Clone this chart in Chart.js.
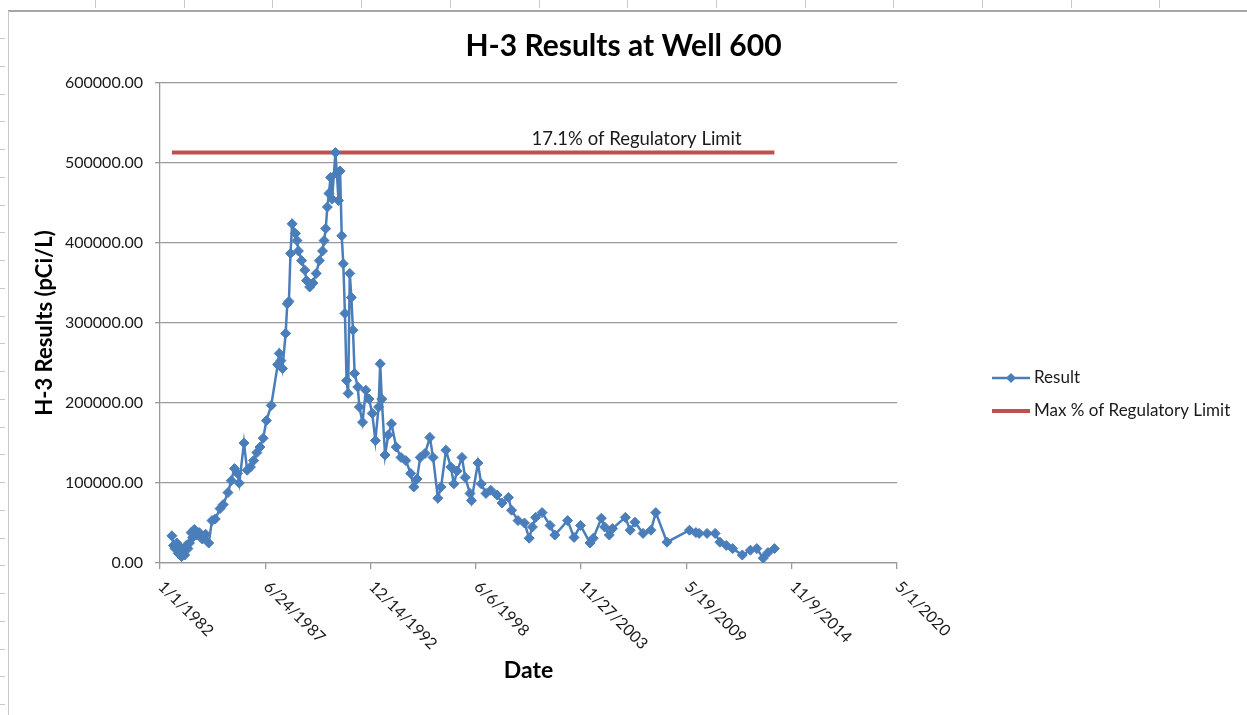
<!DOCTYPE html>
<html>
<head>
<meta charset="utf-8">
<title>H-3 Results at Well 600</title>
<script src="https://cdn.jsdelivr.net/npm/chart.js@4.4.0/dist/chart.umd.min.js"></script>
<style>
  html, body { margin: 0; padding: 0; background: #fff; }
  #wrap { position: relative; width: 1247px; height: 715px; }
</style>
</head>
<body>
<div id="wrap"><canvas id="chart" width="1247" height="715"></canvas></div>
<script>
var sampleDates = [
  "1982-08", "1982-09", "1982-10", "1982-11", "1982-12", "1983-01", "1983-02", "1983-03",
  "1983-04", "1983-05", "1983-06", "1983-07", "1983-08", "1983-09", "1983-10", "1983-11",
  "1984-01", "1984-03", "1984-05", "1984-07", "1984-09", "1984-11", "1985-02", "1985-04",
  "1985-07", "1985-09", "1985-11", "1986-01", "1986-02", "1986-05", "1986-07", "1986-09",
  "1986-11", "1987-01", "1987-03", "1987-05", "1987-07", "1987-10", "1988-02", "1988-03",
  "1988-04", "1988-05", "1988-07", "1988-08", "1988-09", "1988-10", "1988-11", "1989-01",
  "1989-02", "1989-03", "1989-05", "1989-07", "1989-08", "1989-10", "1989-12", "1990-02",
  "1990-04", "1990-06", "1990-07", "1990-08", "1990-09", "1990-10", "1990-11", "1990-12",
  "1991-02", "1991-03", "1991-04", "1991-05", "1991-06", "1991-07", "1991-08", "1991-09",
  "1991-10", "1991-11", "1991-12", "1992-01", "1992-02", "1992-04", "1992-05", "1992-07",
  "1992-09", "1992-11", "1993-01", "1993-03", "1993-05", "1993-06", "1993-07", "1993-09",
  "1993-11", "1994-01", "1994-04", "1994-07", "1994-10", "1995-01", "1995-03", "1995-05",
  "1995-07", "1995-10", "1996-01", "1996-03", "1996-06", "1996-08", "1996-11", "1997-02",
  "1997-04", "1997-06", "1997-09", "1997-11", "1998-02", "1998-03", "1998-07", "1998-09",
  "1998-12", "1999-03", "1999-07", "1999-10", "2000-02", "2000-04", "2000-08", "2000-12",
  "2001-03", "2001-05", "2001-07", "2001-11", "2002-04", "2002-07", "2003-03", "2003-07",
  "2003-11", "2004-05", "2004-07", "2004-12", "2005-02", "2005-05", "2005-07", "2006-03",
  "2006-06", "2006-09", "2007-02", "2007-07", "2007-10", "2008-05", "2009-07", "2009-11",
  "2010-01", "2010-06", "2010-11", "2011-02", "2011-06", "2011-10", "2012-04", "2012-09",
  "2013-01", "2013-05", "2013-08", "2013-12"
];

var resultValues = [
  34000, 22000, 18000, 25000, 12000, 20000, 8000, 15000,
  10000, 22000, 18000, 25000, 38000, 32000, 42000, 35000,
  38000, 30000, 36000, 25000, 53000, 55000, 68000, 73000,
  88000, 103000, 118000, 112000, 100000, 150000, 116000, 120000,
  128000, 138000, 145000, 156000, 178000, 197000, 248000, 262000,
  253000, 243000, 287000, 324000, 327000, 387000, 424000, 412000,
  403000, 390000, 378000, 366000, 353000, 345000, 350000, 362000,
  378000, 390000, 403000, 418000, 445000, 462000, 482000, 455000,
  513000, 487000, 453000, 490000, 409000, 374000, 312000, 228000,
  212000, 362000, 332000, 291000, 237000, 220000, 195000, 176000,
  216000, 205000, 187000, 153000, 195000, 249000, 205000, 135000,
  160000, 174000, 145000, 132000, 128000, 112000, 95000, 105000,
  132000, 137000, 157000, 132000, 81000, 95000, 141000, 120000,
  99000, 115000, 132000, 107000, 87000, 78000, 125000, 99000,
  87000, 91000, 85000, 75000, 82000, 66000, 53000, 50000,
  31000, 45000, 57000, 63000, 47000, 35000, 53000, 32000,
  47000, 25000, 31000, 56000, 45000, 35000, 43000, 57000,
  41000, 51000, 37000, 41000, 63000, 26000, 41000, 38000,
  37000, 37000, 37000, 26000, 22000, 18000, 10000, 16000,
  18000, 6000, 13000, 18000
];

var maxLimitValue = 513000;
var limitLabel = "17.1% of Regulatory Limit";
var limitLabelDate = "2006-10";
var xTickLabels = ["1/1/1982", "6/24/1987", "12/14/1992", "6/6/1998", "11/27/2003", "5/19/2009", "11/9/2014", "5/1/2020"];
var xTickStep = 2000;
var yMax = 600000;
var yStep = 100000;
var seriesNames = ["Result", "Max % of Regulatory Limit"];

var BLUE = "#4a7ebb";
var RED = "#c0504d";
var FONT = "Lato, 'Open Sans', sans-serif";

// days counted from 1/1/1982, the first axis tick
function dayNum(s) {
  var p = s.split("-");
  return (Date.UTC(+p[0], +p[1] - 1, 15) - Date.UTC(1982, 0, 1)) / 86400000;
}

var resultPoints = sampleDates.map(function (d, i) { return { x: dayNum(d), y: resultValues[i] }; });
var limitPoints = [
  { x: dayNum(sampleDates[0]), y: maxLimitValue },
  { x: dayNum(sampleDates[sampleDates.length - 1]), y: maxLimitValue }
];

// spreadsheet cell edges that show behind the chart
var sheetPlugin = {
  id: "sheet",
  beforeDraw: function (chart) {
    var ctx = chart.ctx;
    ctx.save();
    ctx.fillStyle = "#fff";
    ctx.fillRect(0, 0, chart.width, chart.height);
    ctx.strokeStyle = "#c8c8c8";
    ctx.lineWidth = 1;
    for (var x = 95; x < chart.width; x += 88.7) {
      ctx.beginPath(); ctx.moveTo(Math.round(x) + 0.5, 0); ctx.lineTo(Math.round(x) + 0.5, 8); ctx.stroke();
    }
    for (var y = 38; y < chart.height; y += 27.75) {
      ctx.beginPath(); ctx.moveTo(0, Math.round(y) + 0.5); ctx.lineTo(5, Math.round(y) + 0.5); ctx.stroke();
    }
    ctx.strokeStyle = "#a6a6a6";
    ctx.lineWidth = 2;
    ctx.beginPath(); ctx.moveTo(8, 11); ctx.lineTo(chart.width, 11); ctx.stroke();
    ctx.strokeStyle = "#c8c8c8";
    ctx.lineWidth = 1;
    ctx.beginPath(); ctx.moveTo(8.5, 11); ctx.lineTo(8.5, chart.height); ctx.stroke();
    ctx.restore();
  }
};

// rotated date labels, the limit text and the legend
var extrasPlugin = {
  id: "extras",
  afterDraw: function (chart) {
    var ctx = chart.ctx;
    var xs = chart.scales.x, ys = chart.scales.y;
    ctx.save();
    ctx.fillStyle = "#1a1a1a";
    ctx.font = "16px " + FONT;
    ctx.textAlign = "left";
    ctx.textBaseline = "middle";
    xTickLabels.forEach(function (lab, i) {
      var px = xs.getPixelForValue(i * xTickStep);
      ctx.save();
      ctx.translate(px + 1, xs.top + 21);
      ctx.rotate(Math.PI / 4);
      ctx.fillText(lab, 0, 0);
      ctx.restore();
    });

    ctx.font = "18.5px " + FONT;
    ctx.textAlign = "center";
    ctx.textBaseline = "bottom";
    ctx.fillText(limitLabel, xs.getPixelForValue(dayNum(limitLabelDate)), ys.getPixelForValue(maxLimitValue) - 4);

    var lx = chart.chartArea.right + 95;
    var rows = [378, 411];
    ctx.font = "17px " + FONT;
    ctx.textAlign = "left";
    ctx.textBaseline = "middle";
    ctx.lineCap = "butt";
    ctx.strokeStyle = BLUE; ctx.lineWidth = 2.5;
    ctx.beginPath(); ctx.moveTo(lx, rows[0]); ctx.lineTo(lx + 38, rows[0]); ctx.stroke();
    ctx.fillStyle = BLUE;
    ctx.beginPath();
    ctx.moveTo(lx + 19, rows[0] - 5); ctx.lineTo(lx + 24, rows[0]); ctx.lineTo(lx + 19, rows[0] + 5); ctx.lineTo(lx + 14, rows[0]);
    ctx.closePath(); ctx.fill();
    ctx.strokeStyle = RED; ctx.lineWidth = 4;
    ctx.beginPath(); ctx.moveTo(lx, rows[1]); ctx.lineTo(lx + 38, rows[1]); ctx.stroke();
    ctx.fillStyle = "#1a1a1a";
    ctx.fillText(seriesNames[0], lx + 42, rows[0]);
    ctx.fillText(seriesNames[1], lx + 42, rows[1]);
    ctx.restore();
  }
};

new Chart(document.getElementById("chart").getContext("2d"), {
  type: "scatter",
  data: {
    datasets: [
      {
        label: seriesNames[0],
        data: resultPoints,
        showLine: true,
        borderColor: BLUE,
        borderWidth: 2.5,
        backgroundColor: BLUE,
        pointStyle: "rectRot",
        pointRadius: 5,
        pointBorderWidth: 1,
        pointBorderColor: BLUE,
        pointBackgroundColor: BLUE,
        tension: 0
      },
      {
        label: seriesNames[1],
        data: limitPoints,
        showLine: true,
        borderColor: RED,
        borderWidth: 4,
        pointRadius: 0
      }
    ]
  },
  options: {
    responsive: false,
    animation: false,
    layout: { padding: 0 },
    plugins: {
      legend: { display: false },
      tooltip: { enabled: false },
      title: {
        display: true,
        text: "H-3 Results at Well 600",
        color: "#000",
        font: { family: FONT, size: 30, weight: "bold" },
        padding: { top: 28, bottom: 19 }
      }
    },
    scales: {
      x: {
        type: "linear",
        min: 0,
        max: xTickStep * (xTickLabels.length - 1),
        afterFit: function (s) { s.height = 152; },
        ticks: { stepSize: xTickStep, display: false },
        grid: { drawOnChartArea: false, tickLength: 6, color: "#999", lineWidth: 1.3 },
        border: { display: true, color: "#999", width: 1.3 },
        title: {
          display: true,
          text: "Date",
          color: "#000",
          font: { family: FONT, size: 23, weight: "bold" },
          padding: { top: 0, bottom: 31 }
        }
      },
      y: {
        min: 0,
        max: yMax,
        afterFit: function (s) { s.width = 160; },
        ticks: {
          stepSize: yStep,
          padding: 12,
          color: "#1a1a1a",
          font: { family: FONT, size: 16 },
          callback: function (v) { return Number(v).toFixed(2); }
        },
        grid: { color: "#999", lineWidth: 1.3, tickLength: 5 },
        border: { display: true, color: "#999", width: 1.3 },
        title: {
          display: true,
          text: "H-3 Results (pCi/L)",
          color: "#000",
          font: { family: FONT, size: 22, weight: "bold" },
          padding: { top: 32, bottom: 0 }
        }
      },
      // empty right-hand strip that leaves room for the legend
      side: {
        position: "right",
        afterFit: function (s) { s.width = 350; },
        ticks: { display: false },
        grid: { display: false },
        border: { display: false }
      }
    }
  },
  plugins: [sheetPlugin, extrasPlugin]
});
</script>
</body>
</html>
